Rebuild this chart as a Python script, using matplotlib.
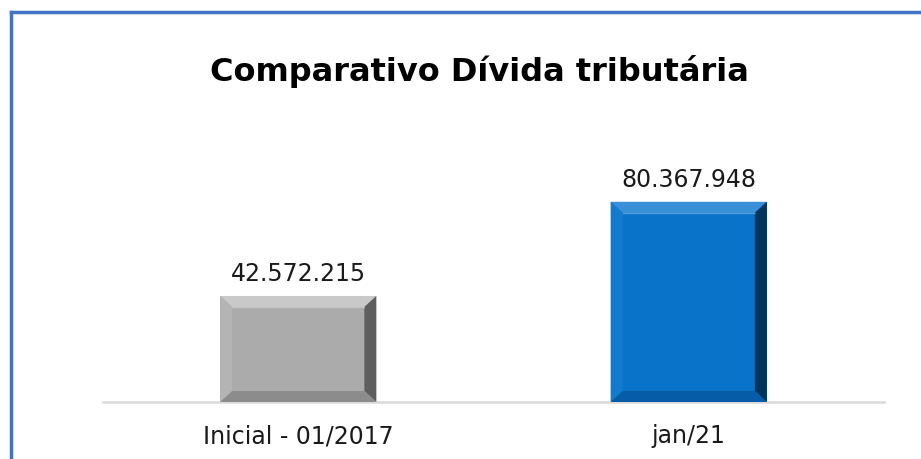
import matplotlib
matplotlib.use("Agg")
import matplotlib.pyplot as plt
from matplotlib.patches import Polygon
from matplotlib.lines import Line2D

# Data
categories = ["Inicial - 01/2017", "jan/21"]
values = [42572215, 80367948]
labels = ["42.572.215", "80.367.948"]

# (face, top, left, right, bottom) bevel shades per bar
shades = [
    ("#ABABAB", "#C9C9C9", "#B4B4B4", "#5E5E5E", "#8C8C8C"),
    ("#0873C9", "#3A90D8", "#137BCE", "#02345E", "#065CA6"),
]

fig = plt.figure(figsize=(9.21, 4.59), dpi=100, facecolor="white")

# Blue frame (top and left edges)
fig.add_artist(Line2D([11 / 921, 1.0], [1 - 12 / 459, 1 - 12 / 459],
                      transform=fig.transFigure, color="#4472C4", lw=2.5))
fig.add_artist(Line2D([11 / 921, 11 / 921], [0, 1 - 12 / 459],
                      transform=fig.transFigure, color="#4472C4", lw=2.5))

ax = fig.add_axes([103 / 921, 57 / 459, 781 / 921, 282 / 459])
ax.set_facecolor("none")

x = list(range(len(categories)))
width = 0.40
ax.set_xlim(-0.5, len(categories) - 0.5)
ax.set_ylim(0, 113.2e6)

bars = ax.bar(x, values, width=width, color=[s[0] for s in shades],
              edgecolor="none", zorder=2)

# Bevel edges, sized in pixels then converted to data units
fig.canvas.draw()
inv = ax.transData.inverted()
x0, y0 = inv.transform((0, 0))
x1, y1 = inv.transform((12, 11))
bx, by = x1 - x0, y1 - y0

for rect, (face, top, left, right, bottom) in zip(bars, shades):
    L = rect.get_x()
    R = L + rect.get_width()
    T = rect.get_height()
    B = 0
    polys = [
        ([(L, T), (R, T), (R - bx, T - by), (L + bx, T - by)], top),
        ([(L, B), (L, T), (L + bx, T - by), (L + bx, B + by)], left),
        ([(R, B), (R, T), (R - bx, T - by), (R - bx, B + by)], right),
        ([(L, B), (R, B), (R - bx, B + by), (L + bx, B + by)], bottom),
    ]
    for pts, col in polys:
        ax.add_patch(Polygon(pts, closed=True, facecolor=col,
                             edgecolor="none", zorder=3))
    # soft highlight along the inner top edge
    ax.plot([L + bx, R - bx], [T - by, T - by], color="white",
            alpha=0.3, lw=1, zorder=4)

for xi, v, lab in zip(x, values, labels):
    ax.text(xi, v + 4.0e6, lab, ha="center", va="bottom",
            fontsize=17, color="#1a1a1a", family="DejaVu Sans")

for side in ["top", "right", "left"]:
    ax.spines[side].set_visible(False)
ax.spines["bottom"].set_color("#D9D9D9")
ax.spines["bottom"].set_linewidth(1.8)
ax.set_yticks([])
ax.set_xticks(x)
ax.set_xticklabels(categories, fontsize=17, color="#1a1a1a")
ax.tick_params(axis="x", length=0, pad=16)

fig.text(479 / 921, 1 - 72 / 459, "Comparativo Dívida tributária",
         ha="center", va="center", fontsize=23, fontweight="bold",
         color="black")

fig.savefig("out.png", dpi=100, facecolor="white")
